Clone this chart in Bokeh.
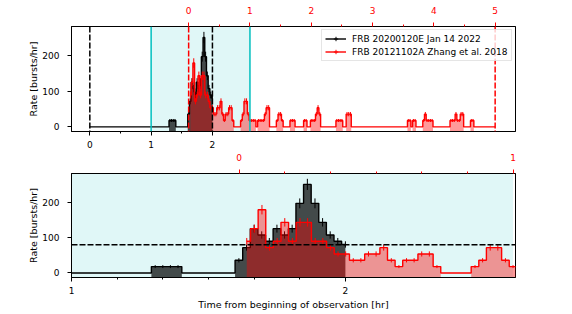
import numpy as np
from bokeh.plotting import figure
from bokeh.models import (Range1d, LinearAxis, FixedTicker, Span, BoxAnnotation,
                          Legend, LegendItem)
from bokeh.layouts import column
from bokeh.embed import file_html
from bokeh.resources import INLINE

# ---------------- data ----------------
BIN_HR = 1 / 36           # 100 s bins
RED_OFFSET_HR = 1.612     # start of the FRB 20121102A series on the 20200120E time axis

# FRB 20200120E: bin index k (centre = k * BIN_HR), rate in bursts/hr
black_rate = [
    0, 0, 0, 0, 0, 0, 0, 0, 0, 0, 0, 0, 0, 0, 0, 0, 0, 0, 0, 0,
    0, 0, 0, 0, 0, 0, 0, 0, 0, 0, 0, 0, 0, 0, 0, 0, 0, 0, 0, 0,
    0, 0, 0, 0, 0, 0, 0, 18, 18, 18, 18, 0, 0, 0, 0, 0, 0, 0,
    36, 72, 126, 108, 90, 126, 108, 126, 198, 252, 198, 144, 108, 90, 81,
]
black_k = list(range(len(black_rate)))

# FRB 20121102A (Zhang et al. 2018): bin index k = 1..180, rate in bursts/hr
red_rate = (
    [90, 126, 180, 72, 90, 144, 90, 144, 144, 90, 90, 72, 54, 54, 36, 36, 54, 54,
     72, 36, 18, 36, 36, 54, 54, 18, 0, 0, 0, 0, 18, 36, 72, 72, 36, 18]
    + [18, 18, 18, 0, 18, 18, 18, 18, 36, 54, 54, 0, 0, 0, 0, 18, 36, 36,
       18, 0, 0, 0, 0, 18, 18, 18, 0, 0, 0, 0, 0, 18, 18, 0, 0, 18]
    + [18, 18, 36, 54, 36, 0, 0, 0, 0, 0, 0, 0, 0, 0, 18, 18, 18, 18,
       0, 0, 36, 36, 36, 0, 0, 0, 0, 0, 0, 0, 0, 0, 0, 0, 0, 0]
    + [0, 0, 0, 0, 0, 0, 0, 0, 0, 0, 0, 0, 0, 0, 0, 0, 0, 0,
       0, 0, 18, 18, 0, 18, 18, 0, 0, 0, 0, 18, 36, 18, 18, 18, 18, 0]
    + [0, 0, 0, 0, 0, 0, 0, 0, 0, 18, 18, 18, 36, 18, 18, 36, 36, 0,
       0, 0, 0, 18, 18, 0, 0, 0, 0, 0, 0, 0, 0, 0, 0, 0, 0, 0]
)
red_k = list(range(1, len(red_rate) + 1))

black_label = "FRB 20200120E Jan 14 2022"
red_label = "FRB 20121102A Zhang et al. 2018"
rate_threshold = 80

# ---------------- styling ----------------
FONT = "DejaVu Sans"
FS = "9px"
FS_LABEL = "9.5px"
CYAN = "#00bfbf"
FLOOR = -25.0
DASH = "6 2"

bx = np.array(black_k) * BIN_HR
by = np.array(black_rate, dtype=float)
rx = np.array(red_k) * BIN_HR
ry = np.array(red_rate, dtype=float)


def style_axis(ax, color="black", standoff=5):
    ax.major_label_text_font = FONT
    ax.major_label_text_font_size = FS
    ax.major_label_text_color = color
    ax.major_tick_line_color = color
    ax.minor_tick_line_color = color
    ax.major_tick_out = 4
    ax.major_tick_in = 0
    ax.minor_tick_out = 2
    ax.minor_tick_in = 0
    ax.axis_line_color = "black"
    ax.major_label_standoff = standoff
    ax.axis_label_text_font = FONT
    ax.axis_label_text_font_size = FS_LABEL
    ax.axis_label_text_font_style = "normal"
    ax.axis_label_text_color = "black"
    ax.axis_label_standoff = 0


def draw_series(p, x, y, color, fill_alpha, range_name="default"):
    lo = np.where(y > 0, FLOOR, 0.0)
    p.varea_step(x=x, y1=y, y2=lo, step_mode="center", fill_color=color,
                 fill_alpha=fill_alpha, x_range_name=range_name)
    p.step(x=x, y=y, mode="center", line_color=color, line_width=1.4,
           x_range_name=range_name)
    m = y > 0
    err = np.sqrt(y[m])
    p.segment(x0=x[m], y0=y[m] - err, x1=x[m], y1=y[m] + err,
              line_color=color, line_width=1, x_range_name=range_name)


def panel(x0, x1, height, top_b, bot_b, bticks, bminor, rticks, rminor):
    p = figure(width=556, height=height, x_range=Range1d(x0, x1),
               y_range=Range1d(-13, 283), output_backend="svg",
               toolbar_location=None, min_border_left=71, min_border_right=41,
               min_border_top=top_b, min_border_bottom=bot_b)
    p.extra_x_ranges = {"red": Range1d(x0 - RED_OFFSET_HR, x1 - RED_OFFSET_HR)}
    p.xgrid.visible = False
    p.ygrid.visible = False
    p.outline_line_color = "black"
    p.outline_line_width = 1
    p.outline_line_alpha = 1
    p.background_fill_color = "white"
    p.border_fill_alpha = 0

    bax = p.below[0]
    bax.ticker = FixedTicker(ticks=bticks, minor_ticks=bminor)
    style_axis(bax, standoff=5)
    yax = p.left[0]
    yax.ticker = FixedTicker(ticks=[0, 100, 200])
    yax.axis_label = "Rate [bursts/hr]"
    style_axis(yax, standoff=8)

    tax = LinearAxis(x_range_name="red", ticker=FixedTicker(ticks=rticks, minor_ticks=rminor))
    style_axis(tax, "red", standoff=9)
    p.add_layout(tax, "above")

    p.add_layout(BoxAnnotation(left=1.0, right=RED_OFFSET_HR + 1.0,
                               fill_color=CYAN, fill_alpha=0.12, line_alpha=0,
                               level="underlay"))
    draw_series(p, bx, by, "black", 0.7)
    draw_series(p, rx, ry, "red", 0.4, "red")
    return p


# ---------------- top panel ----------------
top = panel(-0.299, 6.944, 152, 26, 21, [0, 1, 2], [0.5, 1.5],
            [0, 1, 2, 3, 4, 5], [0.5, 1.5, 2.5, 3.5, 4.5])
for loc in (0, 2):
    top.add_layout(Span(location=loc, dimension="height", line_color="black",
                        line_dash=DASH, line_width=1.5))
for loc in (0, 5):
    top.add_layout(Span(location=loc, dimension="height", line_color="red",
                        line_dash=DASH, line_width=1.5, x_range_name="red"))
top.add_layout(Span(location=1, dimension="height", line_color=CYAN, line_width=1.5))
top.add_layout(Span(location=1, dimension="height", line_color=CYAN, line_width=1.5,
                    x_range_name="red"))

lb = top.line([-50, -49], [-50, -50], line_color="black", line_width=1.4)
cb = top.scatter([-50], [-50], marker="cross", size=8, line_color="black", line_width=1)
lr = top.line([-50, -49], [-50, -50], line_color="red", line_width=1.4)
cr = top.scatter([-50], [-50], marker="cross", size=8, line_color="red", line_width=1)
legend = Legend(items=[LegendItem(label=black_label, renderers=[lb, cb]),
                       LegendItem(label=red_label, renderers=[lr, cr])],
                location=(250, 70), glyph_width=21, glyph_height=11,
                label_height=11, spacing=2, padding=3, margin=0, label_standoff=6,
                label_text_font=FONT, label_text_font_size=FS,
                label_text_color="black",
                border_line_color="#cccccc", border_line_width=1,
                background_fill_alpha=0.8)
top.add_layout(legend)

# ---------------- bottom panel ----------------
bot = panel(1.0, 2.621, 164, 25, 34, [1, 2],
            [1 + 1 / 6, 1 + 2 / 6, 1 + 3 / 6, 1 + 4 / 6, 1 + 5 / 6],
            [0, 1], [1 / 6, 2 / 6, 3 / 6, 4 / 6, 5 / 6])
bot.add_layout(Span(location=rate_threshold, dimension="width", line_color="black",
                    line_dash=DASH, line_width=1.5))
bot.below[0].axis_label = "Time from beginning of observation [hr]"
bot.below[0].axis_label_standoff = 2
bot.margin = (-4, 0, 0, 0)

layout = column(top, bot, spacing=0)
open("out.html", "w").write(file_html(layout, INLINE))
